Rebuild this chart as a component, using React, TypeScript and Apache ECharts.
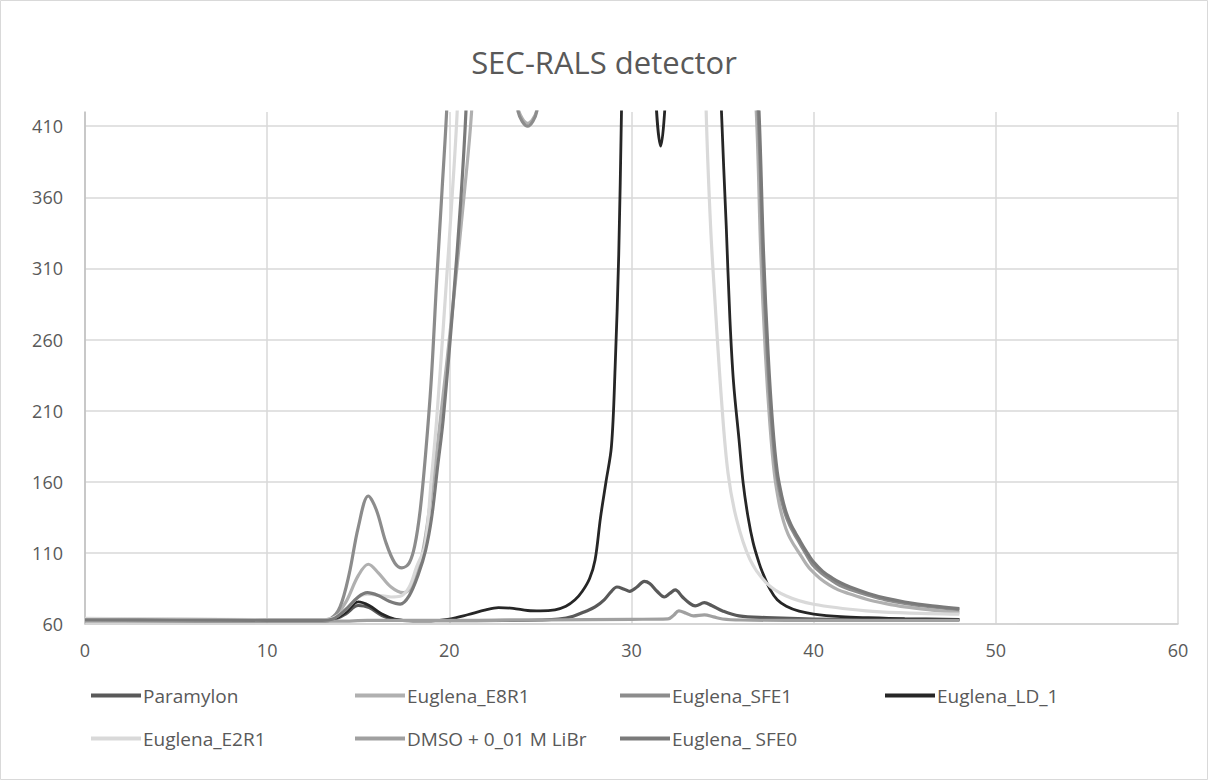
import React, { useEffect, useRef } from "react";
import * as echarts from "echarts";

const TITLE = "SEC-RALS detector";
const X_TICKS = { min: 0, max: 60, interval: 10 };
const Y_TICKS = { min: 60, max: 420, interval: 50 };

const SERIES_NAMES = [
  "Paramylon",
  "Euglena_E8R1",
  "Euglena_SFE1",
  "Euglena_LD_1",
  "Euglena_E2R1",
  "DMSO + 0_01 M LiBr",
  "Euglena_ SFE0",
];

const SERIES_COLORS = ["#595959", "#b0b0b0", "#8c8c8c", "#262626", "#d9d9d9", "#a0a0a0", "#7a7a7a"];

const paramylon: number[][] = [
  [0, 63], [5, 62.8], [10, 62.5], [13, 62.5], [13.6, 63], [14.3, 67], [15, 73], [15.6, 71.5], [16.3, 66],
  [17, 63], [18, 62.3], [20, 62.3], [23, 62.5], [25, 62.8], [26, 63.5], [26.8, 65.5], [27.5, 69], [28, 72],
  [28.5, 77], [28.9, 83], [29.2, 86], [29.6, 84.5], [29.9, 83], [30.3, 86], [30.7, 90], [31.0, 88.5],
  [31.4, 83], [31.8, 79], [32.1, 81.5], [32.4, 84], [32.8, 79], [33.2, 74.5], [33.5, 72.7], [34.0, 75],
  [34.4, 73], [35.0, 69.2], [35.9, 65.7], [37.4, 64.5], [40, 63.5], [44, 63], [48, 63],
];

const e8r1: number[][] = [
  [0, 63], [5, 62.8], [10, 62.6], [13, 62.6], [13.6, 64], [14.3, 75], [15, 94], [15.55, 102], [16.1, 96],
  [16.8, 86], [17.47, 82], [18.0, 88], [18.5, 108], [19.0, 150], [19.5, 203], [20.2, 284], [20.8, 360],
  [21.22, 420], [21.8, 560], [22.8, 520], [23.4, 450], [23.8, 421], [24.3, 412], [24.8, 421], [25.3, 470],
  [26.5, 650], [30, 900], [34, 850], [36.2, 560], [36.85, 420], [37.1, 320], [37.35, 250], [37.6, 200],
  [37.85, 165], [38.1, 145], [38.35, 132], [38.6, 123], [38.85, 117], [39.1, 112], [39.35, 107],
  [39.6, 102], [39.85, 98], [40.35, 92], [40.85, 87.5], [41.35, 84], [41.9, 81.5], [42.9, 77.4],
  [43.9, 74.5], [45, 72], [46.5, 69.8], [48, 68],
];

const sfe1: number[][] = [
  [0, 63.5], [5, 63.2], [10, 63], [13, 63], [13.5, 64], [14, 72], [14.5, 95], [15, 128], [15.55, 150],
  [16, 140], [16.5, 118], [17, 103], [17.4, 99.5], [17.8, 103], [18.1, 115], [18.4, 140], [18.7, 180],
  [19.0, 230], [19.3, 300], [19.6, 365], [19.85, 420], [20.3, 550], [21, 700], [22.5, 600], [23.3, 470],
  [23.78, 420], [24.3, 410], [24.79, 420], [25.3, 480], [26, 600], [30, 900], [35, 700], [36.5, 500],
  [36.95, 420], [37.2, 320], [37.45, 250], [37.7, 200], [37.95, 167], [38.2, 149], [38.45, 137],
  [38.7, 129], [38.95, 123], [39.2, 117.5], [39.45, 112], [39.7, 106.5], [39.95, 101.5], [40.45, 95.5],
  [40.95, 91], [41.45, 87], [41.95, 84.5], [42.95, 80.5], [43.95, 77], [45, 74.5], [46.5, 72], [48, 70],
];

const ld1: number[][] = [
  [0, 62.5], [10, 62], [13, 62], [13.6, 63], [14.3, 68], [15, 75.5], [15.6, 73], [16.3, 67], [17, 63.5],
  [18, 62.3], [19, 62.3], [20, 63.5], [21, 66.5], [22, 70], [22.7, 71.5], [23.5, 71], [24.3, 69.5],
  [25, 69.2], [25.8, 70], [26.4, 72.5], [26.9, 77], [27.3, 83], [27.7, 92], [28, 105], [28.3, 135],
  [28.6, 160], [28.9, 185], [29.1, 240], [29.3, 320], [29.45, 420], [29.7, 600], [30.5, 750], [31.0, 600],
  [31.3, 440], [31.6, 396], [31.9, 440], [32.3, 650], [33.5, 800], [34.5, 600], [34.94, 420], [35.2, 340],
  [35.4, 275], [35.6, 230], [35.9, 190], [36.13, 159], [36.4, 135], [36.68, 117], [37.0, 103], [37.2, 96],
  [37.6, 84.5], [38.0, 77], [38.5, 72.5], [39.2, 69], [40, 67], [41.5, 65.2], [43, 64.4], [45, 63.7],
  [48, 63.3],
];

const e2r1: number[][] = [
  [0, 64], [5, 63.5], [10, 63], [13, 63], [13.6, 64], [14.3, 70], [15, 79], [15.5, 81], [16.2, 80],
  [16.8, 79], [17.3, 79.5], [17.8, 86], [18.2, 100], [18.66, 115], [19.0, 160], [19.3, 203], [19.75, 284],
  [20.15, 360], [20.43, 420], [21, 600], [22, 900], [33, 900], [33.8, 600], [34.1, 420], [34.34, 340],
  [34.58, 287.6], [34.94, 217.6], [35.3, 166], [35.77, 133.5], [36.5, 105.4], [37.4, 89], [38.5, 79.7],
  [40, 73.9], [42.9, 69.2], [45, 67.8], [48, 66.9],
];

const dmso: number[][] = [
  [0, 62], [10, 62], [14, 62], [15.5, 62.5], [20, 62.5], [25, 62.8], [30, 63.3], [32.0, 63.6], [32.3, 66],
  [32.6, 69.2], [33.0, 67.5], [33.4, 65.7], [34.0, 66.4], [34.5, 65], [35.0, 63.5], [36, 62.8], [40, 62.5],
  [48, 62.5],
];

const sfe0: number[][] = [
  [0, 63], [5, 62.8], [10, 62.6], [13, 62.6], [13.6, 63.5], [14.3, 70], [15, 79], [15.5, 82], [16.1, 80],
  [16.7, 76], [17.3, 74], [17.8, 80], [18.3, 95], [18.7, 112], [19.03, 135], [19.35, 170], [19.66, 203.6],
  [20.2, 284], [20.64, 360], [20.91, 420], [21.5, 600], [23, 800], [34, 850], [36.5, 550], [37.0, 420],
  [37.25, 320], [37.5, 250], [37.75, 200], [38.0, 167], [38.25, 150], [38.5, 138], [38.75, 130],
  [39.0, 124], [39.25, 118.5], [39.5, 113], [39.75, 108], [40.0, 103.5], [40.5, 97], [41.0, 92.5],
  [41.5, 88.8], [42.0, 86], [43.0, 81.5], [44.0, 78], [45.0, 75.5], [46.5, 72.8], [48, 70.8],
];

const SERIES_DATA = [paramylon, e8r1, sfe1, ld1, e2r1, dmso, sfe0];

const LEGEND_LEFT = [91, 355, 620, 885];
const LEGEND_TOP = [686, 729];

const FONT = "'Open Sans', sans-serif";
const TEXT_COLOR = "#595959";

export default function App() {
  const ref = useRef<HTMLDivElement>(null);
  useEffect(() => {
    document.body.style.margin = "0";
    if (!ref.current) return;
    const chart = echarts.init(ref.current, null, { renderer: "svg" });
    const legends = SERIES_NAMES.map((name, i) => ({
      show: true,
      data: [name],
      left: LEGEND_LEFT[i % 4],
      top: LEGEND_TOP[Math.floor(i / 4)],
      icon: "rect",
      itemWidth: 50,
      itemHeight: 4,
      itemGap: 0,
      selectedMode: false,
      padding: 0,
      textStyle: { color: TEXT_COLOR, fontSize: 19, fontFamily: FONT, padding: [0, 0, 0, -3] },
    }));
    chart.setOption({
      animation: false,
      backgroundColor: "#ffffff",
      title: {
        text: TITLE,
        left: "center",
        top: 41,
        textStyle: { color: TEXT_COLOR, fontSize: 31, fontWeight: "normal", fontFamily: FONT },
      },
      graphic: [
        {
          type: "rect",
          silent: true,
          shape: { x: 0.5, y: 0.5, width: 1207, height: 779 },
          style: { fill: "none", stroke: "#d9d9d9", lineWidth: 1 },
        },
      ],
      legend: legends,
      grid: { left: 85, right: 30, top: 112, bottom: 156 },
      xAxis: {
        type: "value",
        min: X_TICKS.min,
        max: X_TICKS.max,
        interval: X_TICKS.interval,
        axisLine: { show: true, lineStyle: { color: "#d0d0d0", width: 1.5 } },
        axisTick: { show: false },
        axisLabel: { color: TEXT_COLOR, fontSize: 18, fontFamily: FONT, margin: 17 },
        splitLine: { show: true, lineStyle: { color: "#d9d9d9", width: 1.5 } },
      },
      yAxis: {
        type: "value",
        min: Y_TICKS.min,
        max: Y_TICKS.max,
        interval: Y_TICKS.interval,
        axisLine: { show: true, lineStyle: { color: "#bfbfbf", width: 1.5 } },
        axisTick: { show: false },
        axisLabel: { color: TEXT_COLOR, fontSize: 18, fontFamily: FONT, margin: 22, showMaxLabel: false },
        splitLine: { show: true, showMaxLine: false, lineStyle: { color: "#d9d9d9", width: 1.5 } },
      },
      series: SERIES_NAMES.map((name, i) => ({
        name,
        type: "line",
        data: SERIES_DATA[i],
        showSymbol: false,
        symbol: "none",
        smooth: 0.35,
        clip: true,
        lineStyle: { color: SERIES_COLORS[i], width: i === 3 ? 2.8 : 3.2 },
        itemStyle: { color: SERIES_COLORS[i] },
      })),
    });
    return () => chart.dispose();
  }, []);
  return <div ref={ref} style={{ width: 1208, height: 780 }} />;
}
